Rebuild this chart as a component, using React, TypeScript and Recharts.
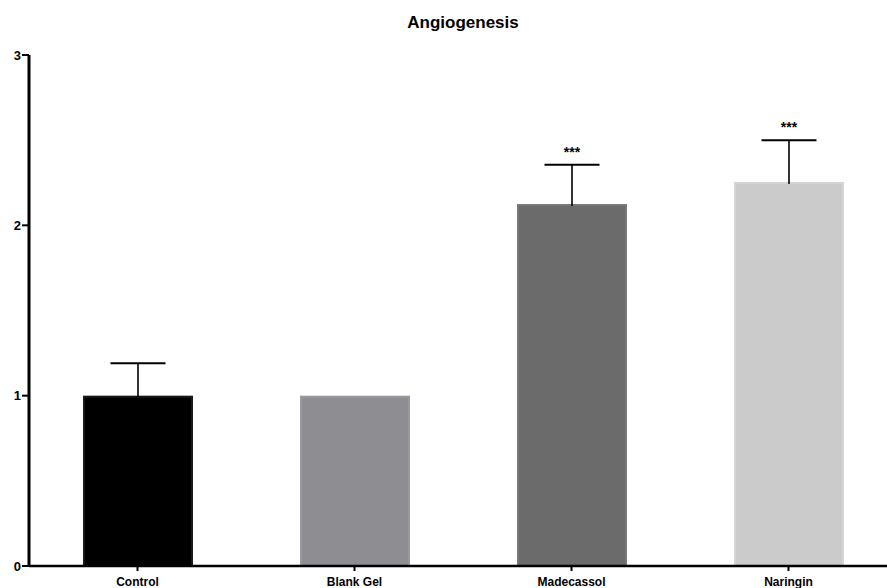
import React from 'react';
import { BarChart, Bar, XAxis, YAxis } from 'recharts';

const categories = ['Control', 'Blank Gel', 'Madecassol', 'Naringin'];
const means = [1.0, 1.0, 2.125, 2.255];
const sems = [0.19, 0, 0.23, 0.245];
const stars = ['', '', '***', '***'];
const yTicks = [0, 1, 2, 3];

const COLORS = ['#000000', '#8e8d91', '#6b6b6b', '#cbcbcb'];
const EDGES = ['#1a1a1a', '#9a99a0', '#777777', '#d5d5d5'];

const data = categories.map((name, i) => ({ name, value: means[i], err: sems[i], sig: stars[i] }));

const FONT = 'Arial, "Liberation Sans", Helvetica, sans-serif';

const BarWithError = (props: any) => {
  const { x, y, width, height, index, payload } = props;
  const pxPerUnit = height / payload.value;
  const cx = x + width / 2;
  const errTop = y - payload.err * pxPerUnit;
  const capHalf = width / 4;
  return (
    <g>
      <rect x={x + 1} y={y + 1} width={width - 2} height={height - 1} fill={COLORS[index]} stroke={EDGES[index]} strokeWidth={2} />
      {payload.err > 0 && (
        <g stroke="#000" fill="none">
          <line x1={cx} y1={y + 2} x2={cx} y2={errTop} strokeWidth={1.6} />
          <line x1={cx - capHalf} y1={errTop} x2={cx + capHalf} y2={errTop} strokeWidth={2} />
        </g>
      )}
      {payload.sig && (
        <text x={cx} y={errTop - 8} textAnchor="middle" fontFamily={FONT} fontSize={14} fontWeight="bold" fill="#000">
          {payload.sig}
        </text>
      )}
    </g>
  );
};

export default function App() {
  return (
    <div style={{ position: 'absolute', left: 0, top: 0, width: 887, height: 588, overflow: 'hidden', background: '#fff' }}>
      <div
        style={{
          position: 'absolute',
          left: 0,
          top: 14,
          width: 926,
          textAlign: 'center',
          fontFamily: FONT,
          fontWeight: 'bold',
          fontSize: 17,
          lineHeight: '17px',
        }}
      >
        Angiogenesis
      </div>
      <BarChart width={897} height={588} data={data} margin={{ top: 55, right: 0, left: 0, bottom: 0 }} barSize={110}>
        <XAxis
          dataKey="name"
          height={22}
          axisLine={{ stroke: '#000', strokeWidth: 2.5 }}
          tickLine={{ stroke: '#000', strokeWidth: 2 }}
          tickSize={5}
          tickMargin={6}
          tick={{ fill: '#000', fontSize: 12, fontWeight: 'bold', fontFamily: FONT }}
          interval={0}
        />
        <YAxis
          domain={[0, 3]}
          ticks={yTicks}
          width={29}
          axisLine={{ stroke: '#000', strokeWidth: 3 }}
          tickLine={{ stroke: '#000', strokeWidth: 2 }}
          tickSize={7}
          tickMargin={1}
          tick={{ fill: '#000', fontSize: 13, fontWeight: 'bold', fontFamily: FONT }}
          allowDataOverflow
        />
        <Bar dataKey="value" shape={<BarWithError />} isAnimationActive={false} />
      </BarChart>
    </div>
  );
}
